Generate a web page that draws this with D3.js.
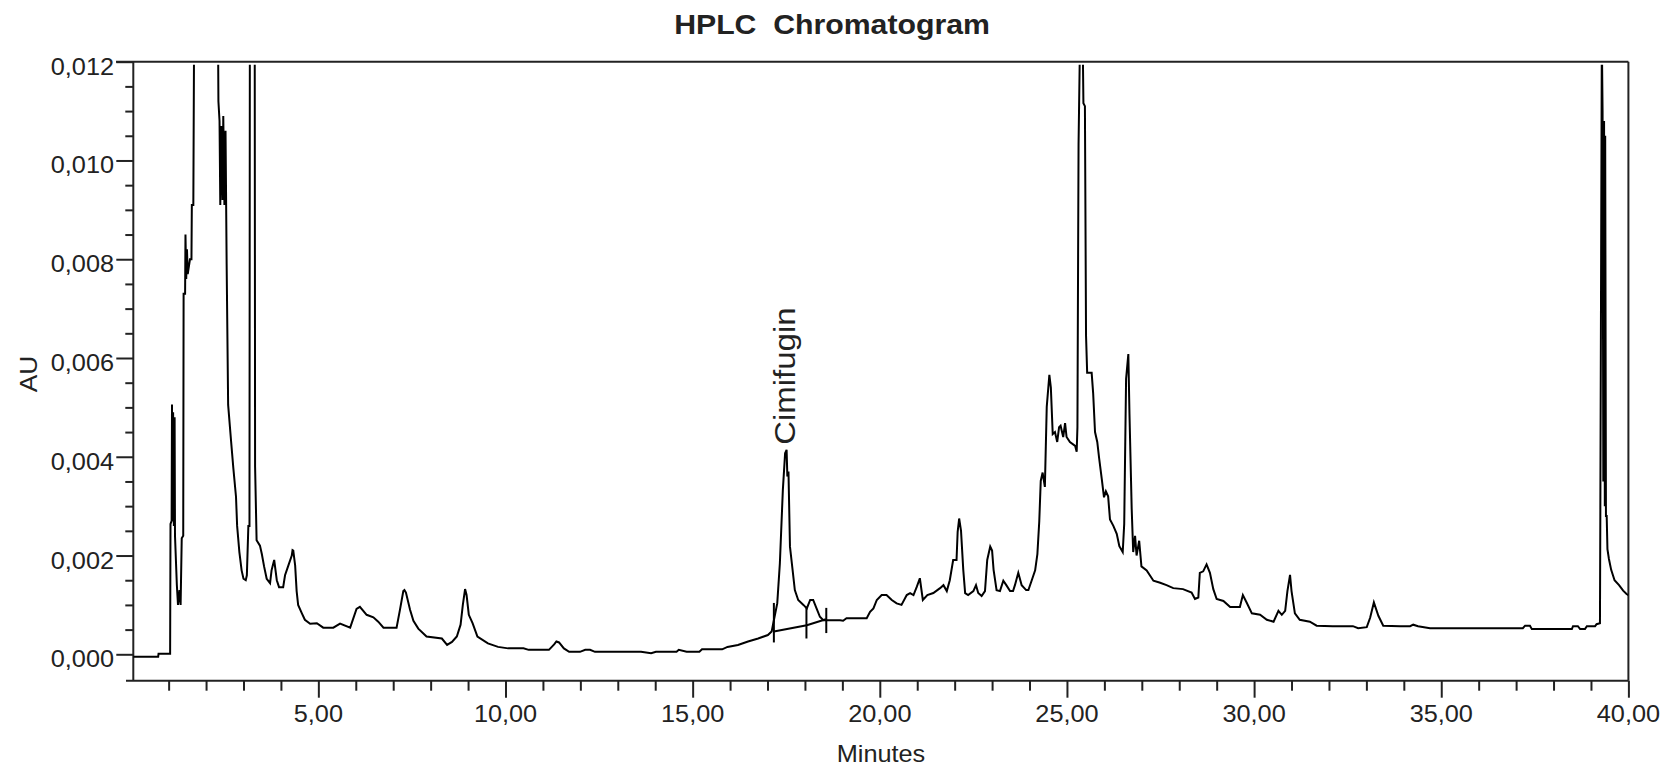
<!DOCTYPE html>
<html>
<head>
<meta charset="utf-8">
<script src="https://cdn.jsdelivr.net/npm/d3@7"></script>
<style>
  html, body { margin: 0; padding: 0; background: #fff; }
  svg { display: block; }
  text { font-family: "Liberation Sans", Arial, sans-serif; fill: #222; white-space: pre; }
</style>
</head>
<body>
<script>
// ---------- DATA ----------
const chartTitle = "HPLC  Chromatogram";
const xLabel = "Minutes";
const yLabel = "AU";
const peakName = "Cimifugin";
const peakTime = 17.51;
const peakValue = 0.00414;

const xMajorTicks = [5, 10, 15, 20, 25, 30, 35, 40];
const xMinorTicks = [1,2,3,4,6,7,8,9,11,12,13,14,16,17,18,19,21,22,23,24,26,27,28,29,31,32,33,34,36,37,38,39];
const yMajorTicks = [0, 0.002, 0.004, 0.006, 0.008, 0.010, 0.012];
const yMinorTicks = [0.0005,0.001,0.0015,0.0025,0.003,0.0035,0.0045,0.005,0.0055,0.0065,0.007,0.0075,0.0085,0.009,0.0095,0.0105,0.011,0.0115];

// retention time (min)
const times = [
0.05,0.72,0.73,1.04,1.05,1.08,1.09,1.10,1.12,1.14,1.16,1.17,1.22,1.25,1.29,1.32,1.35,1.39,1.40,1.44,
1.45,1.47,1.49,1.51,1.57,1.61,1.62,1.66,1.68,2.32,2.33,2.36,2.38,2.41,2.44,2.46,2.49,2.52,2.55,2.59,
2.67,2.73,2.80,2.83,2.89,2.95,3.00,3.06,3.09,3.13,3.16,3.17,3.30,3.31,3.35,3.44,3.49,3.55,3.62,3.71,
3.75,3.82,3.89,3.95,4.06,4.11,4.20,4.29,4.31,4.33,4.38,4.42,4.46,4.56,4.64,4.78,4.96,5.13,5.40,5.58,
5.85,6.02,6.11,6.29,6.47,6.60,6.74,7.09,7.18,7.27,7.30,7.34,7.45,7.54,7.67,7.89,8.30,8.44,8.57,8.70,
8.80,8.86,8.92,8.96,9.02,9.12,9.25,9.53,9.80,10.07,10.48,10.62,11.16,11.30,11.36,11.43,11.56,11.70,11.99,12.13,
12.26,12.39,13.62,13.89,14.02,14.57,14.63,14.84,15.18,15.25,15.79,15.93,16.21,16.48,16.75,17.01,17.11,17.17,17.26,17.33,
17.41,17.47,17.51,17.53,17.56,17.60,17.67,17.73,17.82,17.96,18.05,18.14,18.22,18.31,18.40,18.49,18.94,19.02,19.11,19.65,
19.74,19.83,19.92,20.05,20.18,20.32,20.45,20.58,20.72,20.81,20.90,20.99,21.07,21.15,21.27,21.43,21.61,21.70,21.79,21.87,
21.96,22.05,22.08,22.12,22.17,22.23,22.28,22.36,22.50,22.57,22.63,22.72,22.81,22.87,22.95,23.00,23.04,23.12,23.21,23.30,
23.38,23.48,23.56,23.61,23.70,23.79,23.91,23.97,24.06,24.15,24.21,24.26,24.30,24.35,24.41,24.46,24.53,24.57,24.62,24.68,
24.74,24.79,24.83,24.90,24.95,24.99,25.08,25.22,25.26,25.28,25.31,25.35,25.42,25.44,25.48,25.51,25.54,25.66,25.70,25.75,
25.81,25.86,25.93,25.99,26.04,26.10,26.15,26.24,26.33,26.40,26.49,26.53,26.58,26.64,26.67,26.73,26.77,26.82,26.86,26.93,
26.99,27.13,27.31,27.49,27.66,27.84,28.10,28.33,28.42,28.51,28.55,28.64,28.73,28.82,28.91,29.00,29.18,29.36,29.62,29.70,
29.80,29.94,30.16,30.34,30.52,30.65,30.74,30.83,30.89,30.96,31.00,31.09,31.22,31.49,31.67,32.10,32.64,32.78,33.01,33.10,
33.20,33.32,33.45,33.90,34.17,34.25,34.38,34.70,37.18,37.24,37.37,37.42,38.49,38.52,38.65,38.71,38.84,38.89,39.11,39.15,
39.24,39.25,39.29,39.31,39.33,39.35,39.37,39.38,39.40,39.42,39.44,39.48,39.54,39.63,39.75,39.86,39.95,40.00
];

// absorbance (AU)
const absorbance = [
-0.00005,-0.00005,0.00001,0.00001,0.00264,0.0027,0.00506,0.0027,0.0049,0.0026,0.0048,0.0024,0.0014,0.0010,0.0013,0.0010,0.00235,0.0024,0.0073,0.0073,
0.0085,0.0076,0.0082,0.0077,0.0080,0.0080,0.0091,0.0091,0.0125,0.0125,0.0112,0.0108,0.0091,0.0107,0.0092,0.0109,0.0091,0.0106,0.0079,0.00505,
0.0043,0.00376,0.00319,0.0026,0.00207,0.0017,0.00153,0.00150,0.0016,0.0026,0.0026,0.0125,0.0125,0.0038,0.00231,0.0022,0.00203,0.00178,0.00153,0.00144,
0.0017,0.00191,0.0015,0.00136,0.00136,0.0016,0.0018,0.0020,0.00211,0.0021,0.0018,0.00128,0.0010,0.00083,0.0007,0.00062,0.00063,0.00054,0.00054,0.00062,
0.00054,0.00092,0.00096,0.0008,0.00075,0.00066,0.00054,0.00054,0.0009,0.00128,0.0013,0.00125,0.0009,0.00068,0.00052,0.00036,0.00032,0.00019,0.00025,0.00036,
0.0006,0.0010,0.00132,0.0012,0.0008,0.00063,0.00036,0.00022,0.00015,0.00012,0.00012,0.00009,0.00009,0.0002,0.00026,0.00024,0.00012,0.00005,0.00005,0.00009,
0.00009,0.00005,0.00005,0.00002,0.00005,0.00005,0.00009,0.00005,0.00005,0.0001,0.0001,0.00015,0.00019,0.00026,0.00032,0.00039,0.00046,0.00069,0.00103,0.00184,
0.00333,0.00407,0.00414,0.0036,0.0037,0.00218,0.00171,0.0013,0.0011,0.0010,0.00093,0.0011,0.0011,0.00093,0.00076,0.00069,0.00069,0.00068,0.00073,0.00073,
0.00086,0.00093,0.0011,0.0012,0.0012,0.0011,0.00103,0.0010,0.0012,0.00124,0.0012,0.00137,0.00154,0.0011,0.0012,0.00124,0.00134,0.0014,0.00128,0.0015,
0.00191,0.00191,0.00248,0.00275,0.0025,0.00171,0.00124,0.0012,0.00128,0.0014,0.00124,0.00118,0.00128,0.00191,0.00218,0.0021,0.00171,0.0013,0.00128,0.00149,
0.0014,0.00128,0.00128,0.0014,0.00165,0.0014,0.0013,0.0013,0.0015,0.0017,0.00203,0.00269,0.00351,0.00368,0.00339,0.00501,0.00566,0.0054,0.00446,0.0045,
0.0043,0.0046,0.00463,0.0044,0.00468,0.0044,0.0043,0.00422,0.0041,0.0046,0.01033,0.0125,0.0125,0.01116,0.0111,0.00645,0.0057,0.0057,0.00529,0.0045,
0.0043,0.00397,0.00355,0.00318,0.0033,0.0032,0.00273,0.0026,0.00244,0.00219,0.00207,0.00264,0.00558,0.00608,0.00488,0.00294,0.00207,0.0024,0.0020,0.0023,
0.00178,0.0017,0.00149,0.00145,0.0014,0.00134,0.00132,0.00125,0.00112,0.00115,0.00165,0.00168,0.00182,0.00165,0.00132,0.00112,0.00108,0.00096,0.00096,0.0012,
0.00105,0.00083,0.0008,0.0007,0.00066,0.00088,0.0008,0.00088,0.00128,0.00161,0.00128,0.00083,0.0007,0.00066,0.00058,0.00057,0.00057,0.00053,0.00055,0.00074,
0.00105,0.00078,0.00058,0.00057,0.00057,0.0006,0.00057,0.00053,0.00053,0.00058,0.00058,0.00051,0.00051,0.00057,0.00057,0.00051,0.00051,0.00057,0.00057,0.00061,
0.00063,0.0028,0.0125,0.0110,0.0035,0.0108,0.0030,0.0105,0.0028,0.0028,0.00213,0.00193,0.00171,0.0015,0.0014,0.00129,0.00122,0.0012
];

// integration baseline under the Cimifugin peak and its markers
const baseTimes = [17.17, 18.05, 18.56];
const baseValues = [0.00046, 0.00059, 0.00071];
const markTimes = [17.17, 18.04, 18.57];
const markLow = [0.00024, 0.00032, 0.00043];
const markHigh = [0.00104, 0.00096, 0.00094];

// ---------- LAYOUT ----------
(function () {
const W = 1669, H = 768;
const pLeft = 133.3, pRight = 1628.4, pTop = 61.7, pBottom = 680.7;
const SX = 1.1; // glyph width stretch

const svg = d3.select("body").append("svg").attr("width", W).attr("height", H);

const x = d3.scaleLinear().domain([0, 40]).range([131.2, 1628.4]);
const y = d3.scaleLinear().domain([0, 0.012]).range([654.3, pTop]);

const loc = d3.formatLocale({decimal: ",", thousands: ".", grouping: [3], currency: ["", ""]});
const fy = loc.format(".3f");
const fx = loc.format(".2f");

function label(g, txt, tx, ty, opts) {
  const o = Object.assign({size: 23, anchor: "middle", rotate: 0, sx: SX, weight: "normal"}, opts || {});
  return g.append("text")
    .attr("transform", `translate(${tx},${ty}) rotate(${o.rotate}) scale(${o.sx},1)`)
    .attr("text-anchor", o.anchor)
    .attr("font-size", o.size)
    .attr("font-weight", o.weight)
    .attr("xml:space", "preserve")
    .text(txt);
}

const clipTop = y(0.01194);
svg.append("clipPath").attr("id", "plotclip").append("rect")
  .attr("x", pLeft).attr("y", clipTop)
  .attr("width", pRight - pLeft).attr("height", pBottom - clipTop);

// ---------- AXES ----------
function styleTicks(g) {
  g.select(".domain").remove();
  g.selectAll("line").attr("stroke", "#222").attr("stroke-width", 2);
}
svg.append("g").attr("transform", `translate(${pLeft},0)`)
  .call(d3.axisLeft(y).tickValues(yMinorTicks).tickSize(8).tickFormat(""))
  .call(styleTicks);
svg.append("g").attr("transform", `translate(${pLeft},0)`)
  .call(d3.axisLeft(y).tickValues(yMajorTicks).tickSize(17).tickFormat(""))
  .call(styleTicks);
yMajorTicks.forEach(v => label(svg, fy(v), 114, y(v) + 13, {anchor: "end"}));

svg.append("g").attr("transform", `translate(0,${pBottom})`)
  .call(d3.axisBottom(x).tickValues(xMinorTicks).tickSize(10).tickFormat(""))
  .call(styleTicks);
svg.append("g").attr("transform", `translate(0,${pBottom})`)
  .call(d3.axisBottom(x).tickValues(xMajorTicks).tickSize(17).tickFormat(""))
  .call(styleTicks);
xMajorTicks.forEach(v => label(svg, fx(v), x(v), 721.5));

const axG = svg.append("g").attr("stroke", "#222").attr("stroke-width", 2).attr("fill", "none");
axG.append("line").attr("x1", pLeft).attr("x2", pLeft).attr("y1", pTop).attr("y2", pBottom);
axG.append("line").attr("x1", 126).attr("x2", pRight).attr("y1", pBottom).attr("y2", pBottom);
axG.append("line").attr("x1", 116).attr("x2", pRight).attr("y1", pTop).attr("y2", pTop);
axG.append("line").attr("x1", pRight).attr("x2", pRight).attr("y1", pTop).attr("y2", pBottom);

// ---------- TRACE ----------
const n = Math.min(times.length, absorbance.length);
const pts = d3.range(n).map(i => [times[i], absorbance[i]]);
const line = d3.line().x(d => x(d[0])).y(d => y(d[1]));
svg.append("path")
  .datum(pts)
  .attr("clip-path", "url(#plotclip)")
  .attr("d", line)
  .attr("fill", "none")
  .attr("stroke", "#000")
  .attr("stroke-width", 2)
  .attr("stroke-linejoin", "miter");

svg.append("path")
  .datum(baseTimes.map((t, i) => [t, baseValues[i]]))
  .attr("d", line).attr("fill", "none").attr("stroke", "#000").attr("stroke-width", 2);
svg.append("g").selectAll("line").data(markTimes).join("line")
  .attr("x1", d => x(d)).attr("x2", d => x(d))
  .attr("y1", (d, i) => y(markLow[i])).attr("y2", (d, i) => y(markHigh[i]))
  .attr("stroke", "#000").attr("stroke-width", 2);

// ---------- TEXT ----------
label(svg, chartTitle, 832, 33.5, {size: 28, weight: "bold", sx: 1.08});
label(svg, xLabel, 881, 762);
label(svg, yLabel, 37, 374, {rotate: -90, size: 24});
label(svg, peakName, x(peakTime) + 8.5, y(peakValue) - 5, {rotate: -90, size: 30, anchor: "start"});
})();
</script>
</body>
</html>
